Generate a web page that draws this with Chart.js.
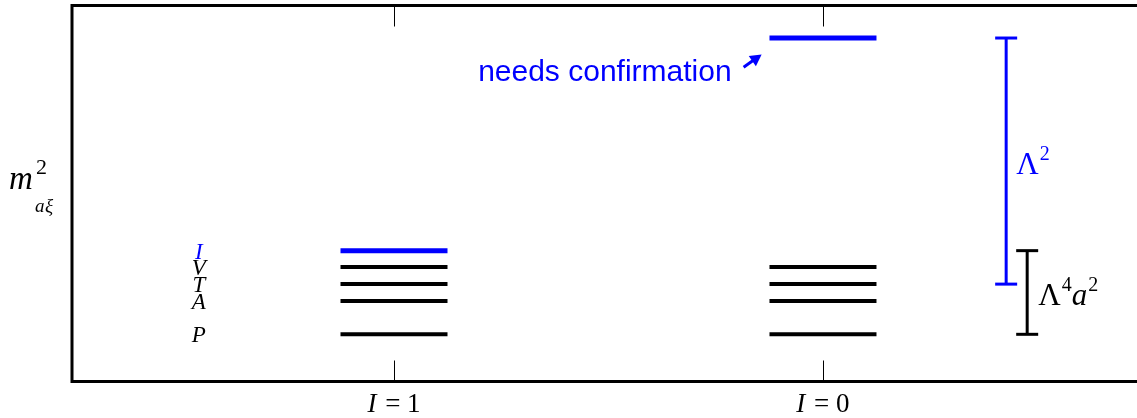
<!DOCTYPE html>
<html>
<head>
<meta charset="utf-8">
<script src="https://cdn.jsdelivr.net/npm/chart.js@4/dist/chart.umd.min.js"></script>
<style>
html,body{margin:0;padding:0;background:#fff;}
canvas{display:block;}
</style>
</head>
<body>
<canvas id="c" width="1137" height="418"></canvas>
<script>
// ---- data ----
const categories = ['I = 1', 'I = 0'];
const categoryX = [1, 2];
const levelNames = ['P', 'A', 'T', 'V', 'I'];
const levelValues = [12.55, 21.4, 25.9, 30.45, 34.8];
const isoOneBlack = [12.55, 21.4, 25.9, 30.45];
const isoOneBlue = [34.8];
const isoZeroBlack = [12.55, 21.4, 25.9, 30.45];
const isoZeroBlue = [91.35];
const lambda2Range = [25.9, 91.35];
const lambda4a2Range = [12.55, 34.8];
const lambda2X = 2.427;
const lambda4a2X = 2.476;
const labelX = 0.545;
const noteText = 'needs confirmation';
const notePos = [1.787, 79.9];
const arrowFrom = [1.815, 83.6];
const arrowTo = [1.857, 86.97];

const BLUE = '#0000ff';
const BLACK = '#000000';

function levelPoints(x, vals) { return vals.map(v => ({x: x, y: v})); }

const levelStyle = (color, w) => ({
  showLine: false, pointStyle: 'line', pointRadius: 53.5, pointHoverRadius: 53.5,
  pointBorderColor: color, pointBackgroundColor: color, pointBorderWidth: w, pointHoverBorderWidth: w,
  borderColor: color, backgroundColor: color, clip: false
});
const barStyle = (color) => ({
  type: 'line', showLine: true, borderColor: color, borderWidth: 3, backgroundColor: color,
  pointStyle: 'line', pointRadius: 11, pointHoverRadius: 11, pointBorderColor: color,
  pointBorderWidth: 3, pointHoverBorderWidth: 3, tension: 0, fill: false, clip: false
});

const datasets = [
  Object.assign({data: levelPoints(categoryX[0], isoOneBlack)}, levelStyle(BLACK, 4)),
  Object.assign({data: levelPoints(categoryX[0], isoOneBlue)}, levelStyle(BLUE, 5)),
  Object.assign({data: levelPoints(categoryX[1], isoZeroBlack)}, levelStyle(BLACK, 4)),
  Object.assign({data: levelPoints(categoryX[1], isoZeroBlue)}, levelStyle(BLUE, 5)),
  Object.assign({data: lambda2Range.map(v => ({x: lambda2X, y: v}))}, barStyle(BLUE)),
  Object.assign({data: lambda4a2Range.map(v => ({x: lambda4a2X, y: v}))}, barStyle(BLACK))
];

const SERIF = '"Liberation Serif", "DejaVu Serif", serif';
const SANS = '"Liberation Sans", Arial, sans-serif';

function drawRich(ctx, parts, x, y) {
  let cx = x;
  parts.forEach(p => {
    ctx.font = p[1];
    ctx.fillStyle = p[2];
    ctx.fillText(p[0], cx, y + (p[3] || 0));
    cx += ctx.measureText(p[0]).width + (p[4] || 0);
  });
  return cx;
}
function richWidth(ctx, parts) {
  let w = 0;
  parts.forEach(p => { ctx.font = p[1]; w += ctx.measureText(p[0]).width + (p[4] || 0); });
  return w;
}

const decor = {
  id: 'decor',
  afterDatasetsDraw(chart) {
    const ctx = chart.ctx;
    const a = chart.chartArea;
    const xs = chart.scales.x, ys = chart.scales.y;
    ctx.save();
    // frame
    ctx.strokeStyle = BLACK;
    ctx.lineWidth = 3;
    ctx.lineJoin = 'miter';
    ctx.beginPath();
    ctx.moveTo(chart.width + 5, a.top);
    ctx.lineTo(a.left, a.top);
    ctx.lineTo(a.left, a.bottom);
    ctx.lineTo(chart.width + 5, a.bottom);
    ctx.stroke();
    // ticks
    ctx.lineWidth = 1;
    categoryX.forEach(v => {
      const px = Math.round(xs.getPixelForValue(v)) + 0.5;
      ctx.beginPath();
      ctx.moveTo(px, a.top); ctx.lineTo(px, a.top + 21);
      ctx.moveTo(px, a.bottom); ctx.lineTo(px, a.bottom - 21);
      ctx.stroke();
    });
    // tick labels
    ctx.textBaseline = 'alphabetic';
    ctx.textAlign = 'left';
    categories.forEach((c, i) => {
      const px = xs.getPixelForValue(categoryX[i]);
      const parts = [['I', 'italic 27px ' + SERIF, BLACK, 0, 2], [c.slice(1), '27px ' + SERIF, BLACK, 0]];
      const w = richWidth(ctx, parts);
      drawRich(ctx, parts, px - w / 2, 412);
    });
    // level labels
    ctx.textAlign = 'center';
    ctx.font = 'italic 23px ' + SERIF;
    levelNames.forEach((n, i) => {
      ctx.fillStyle = n === 'I' ? BLUE : BLACK;
      ctx.fillText(n, xs.getPixelForValue(labelX), ys.getPixelForValue(levelValues[i]) + 8);
    });
    // y title
    ctx.textAlign = 'left';
    ctx.fillStyle = BLACK;
    ctx.font = 'italic 33px ' + SERIF;
    ctx.fillText('m', 9, 189);
    ctx.font = '22px ' + SERIF;
    ctx.fillText('2', 36, 174);
    ctx.font = 'italic 19px ' + SERIF;
    ctx.fillText('a', 35, 212);
    ctx.fillText('\u03BE', 45, 212);
    // needs confirmation
    ctx.textAlign = 'right';
    ctx.font = '30px ' + SANS;
    ctx.fillStyle = BLUE;
    ctx.fillText(noteText, xs.getPixelForValue(notePos[0]), ys.getPixelForValue(notePos[1]));
    // arrow
    const x1 = xs.getPixelForValue(arrowFrom[0]), y1 = ys.getPixelForValue(arrowFrom[1]);
    const x2 = xs.getPixelForValue(arrowTo[0]), y2 = ys.getPixelForValue(arrowTo[1]);
    const ang = Math.atan2(y2 - y1, x2 - x1);
    ctx.strokeStyle = BLUE; ctx.lineWidth = 3;
    ctx.beginPath(); ctx.moveTo(x1, y1);
    ctx.lineTo(x2 - 8 * Math.cos(ang), y2 - 8 * Math.sin(ang)); ctx.stroke();
    ctx.beginPath();
    ctx.moveTo(x2, y2);
    ctx.lineTo(x2 - 13 * Math.cos(ang - 0.5), y2 - 13 * Math.sin(ang - 0.5));
    ctx.lineTo(x2 - 13 * Math.cos(ang + 0.5), y2 - 13 * Math.sin(ang + 0.5));
    ctx.closePath(); ctx.fillStyle = BLUE; ctx.fill();
    // Lambda^2
    ctx.textAlign = 'left';
    const l2x = xs.getPixelForValue(lambda2X) + 10;
    const l2y = ys.getPixelForValue((lambda2Range[0] + lambda2Range[1]) / 2) + 13;
    drawRich(ctx, [['\u039B', '31px ' + SERIF, BLUE, 0, 1], ['2', '20px ' + SERIF, BLUE, -14]], l2x, l2y);
    // Lambda^4 a^2
    const l4x = xs.getPixelForValue(lambda4a2X) + 11;
    const l4y = ys.getPixelForValue((lambda4a2Range[0] + lambda4a2Range[1]) / 2) + 13;
    drawRich(ctx, [['\u039B', '31px ' + SERIF, BLACK, 0, 1], ['4', '20px ' + SERIF, BLACK, -14],
                   ['a', 'italic 31px ' + SERIF, BLACK, 0, 1], ['2', '20px ' + SERIF, BLACK, -14]], l4x, l4y);
    ctx.restore();
  }
};

new Chart(document.getElementById('c'), {
  type: 'scatter',
  data: { datasets: datasets },
  options: {
    responsive: false,
    devicePixelRatio: 1,
    animation: false,
    events: [],
    layout: { autoPadding: false, padding: { left: 72, top: 5.5, right: 0, bottom: 36.5 } },
    plugins: { legend: { display: false }, tooltip: { enabled: false } },
    scales: {
      x: { type: 'linear', display: false, min: 0.2494, max: 2.732 },
      y: { type: 'linear', display: false, min: 0, max: 100 }
    }
  },
  plugins: [decor]
});
</script>
</body>
</html>
